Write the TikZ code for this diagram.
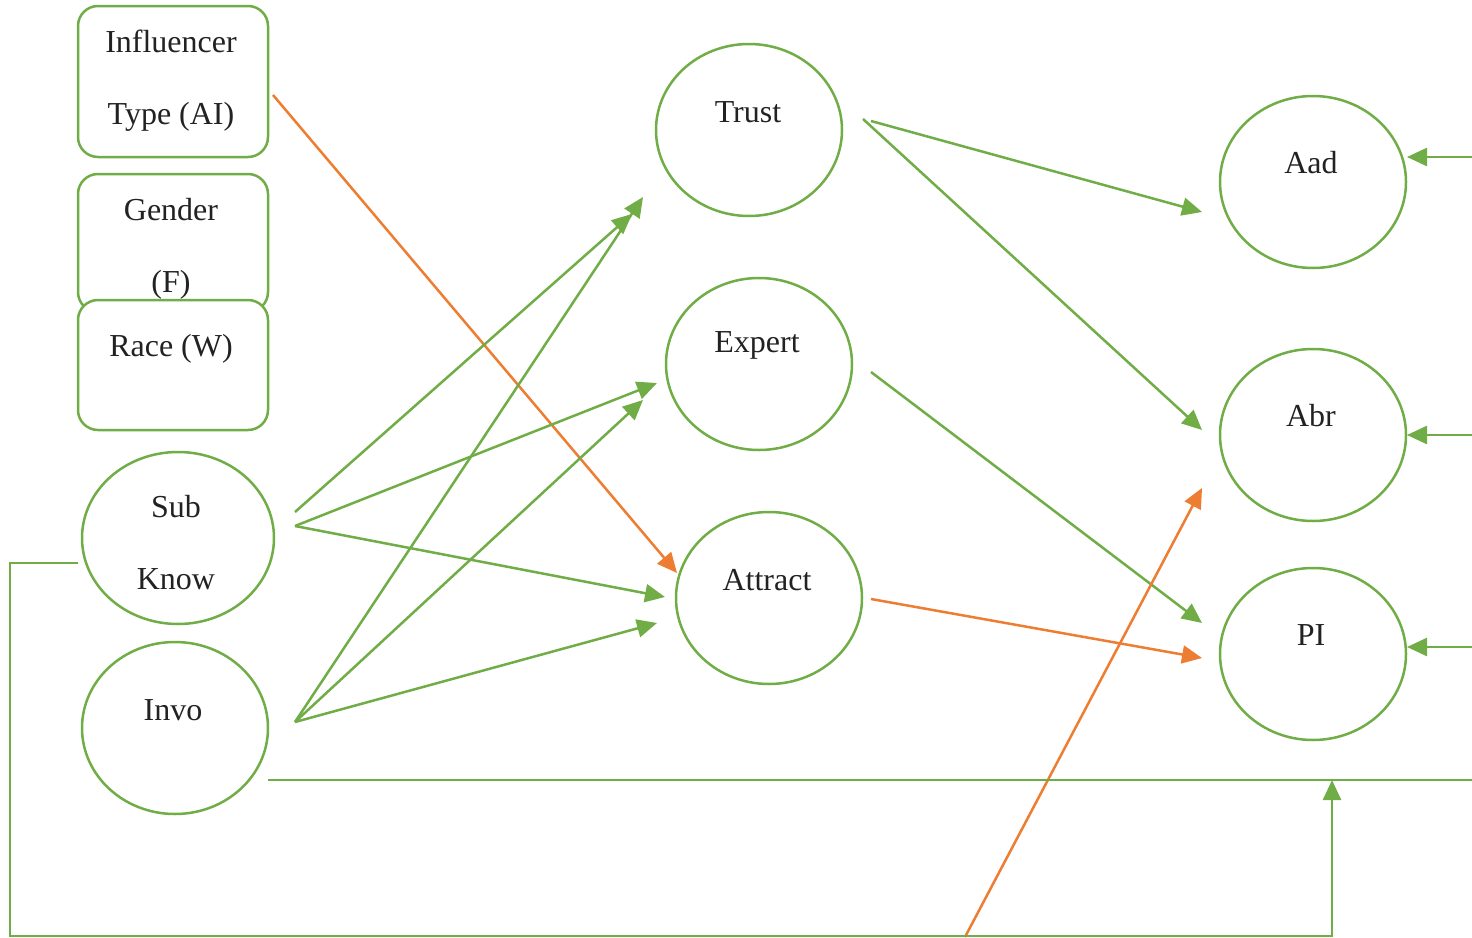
\documentclass[tikz,border=0pt]{standalone}
\usepackage{fontspec}
\setmainfont{Liberation Serif}
\usetikzlibrary{shapes.geometric,arrows.meta,calc}
\definecolor{gr}{HTML}{70AD47}
\definecolor{org}{HTML}{ED7D31}
\definecolor{txt}{HTML}{222222}
\begin{document}
\begin{tikzpicture}[x=0.5pt,y=-0.5pt,
  font=\fontsize{16}{19}\selectfont,
  ell/.style={draw=gr,line width=1.25pt,ellipse,minimum width=93pt,minimum height=86pt,inner sep=0pt},
  rbox/.style={draw=gr,line width=1.25pt,rounded corners=10pt,minimum width=95pt,fill=white,inner sep=0pt},
  lbl/.style={text=txt,inner sep=0pt},
  garr/.style={draw=gr,line width=1.25pt,-{Triangle[length=10pt,width=9pt]}},
  oarr/.style={draw=org,line width=1.25pt,-{Triangle[length=10pt,width=9pt]}},
  gline/.style={draw=gr,line width=1.25pt}]
\useasboundingbox (0,0) rectangle (1472,937);
% boxes
\node[rbox,minimum height=75.5pt] (inf) at (173,81.5) {};
\node[lbl] at ($(inf.center)+(-2,-40.5)$) {Influencer};
\node[lbl] at ($(inf.center)+(-2,35.5)$) {Type (AI)};
\node[rbox,minimum height=69pt] (gen) at (173,243) {};
\node[lbl] at ($(gen.center)+(-2,-33)$) {Gender};
\node[lbl] at ($(gen.center)+(-2,42)$) {(F)};
\node[rbox,minimum height=65pt] (race) at (173,365) {};
\node[lbl] at ($(race.center)+(-2,-16)$) {Race (W)};
% ellipses
\node[ell,minimum width=96pt] (sub) at (178,538) {};
\node[lbl] at ($(sub.center)+(-2,-31)$) {Sub};
\node[lbl] at ($(sub.center)+(-2,41)$) {Know};
\node[ell] (invo) at (175,728) {};
\node[lbl] at ($(invo.center)+(-2,-18)$) {Invo};
\node[ell] (trust) at (749,130) {};
\node[lbl] at ($(trust.center)+(-1,-18)$) {Trust};
\node[ell] (expert) at (759,364) {};
\node[lbl] at ($(expert.center)+(-2,-19)$) {Expert};
\node[ell] (attract) at (769,598) {};
\node[lbl] at ($(attract.center)+(-2,-18)$) {Attract};
\node[ell] (aad) at (1313,182) {};
\node[lbl] at ($(aad.center)+(-2,-19)$) {Aad};
\node[ell] (abr) at (1313,435) {};
\node[lbl] at ($(abr.center)+(-2,-19)$) {Abr};
\node[ell] (pi) at (1313,654) {};
\node[lbl] at ($(pi.center)+(-2,-19)$) {PI};
% free ends
\coordinate (rA) at (1472,157);
\coordinate (rB) at (1472,435);
\coordinate (rC) at (1472,647);
\coordinate (rD) at (1472,780);
\coordinate (bot) at (965,937);
% connectors
\draw[oarr] ($(inf.center)+(100,13.5)$) -- ($(attract.center)+(-92,-25)$);
\draw[garr] ($(sub.center)+(117,-26)$) -- ($(trust.center)+(-117,84)$);
\draw[garr] ($(sub.center)+(117,-12)$) -- ($(expert.center)+(-102,19)$);
\draw[garr] ($(sub.center)+(117,-12)$) -- ($(attract.center)+(-104,-1)$);
\draw[garr] ($(invo.center)+(120,-6)$) -- ($(trust.center)+(-106,67)$);
\draw[garr] ($(invo.center)+(120,-6)$) -- ($(expert.center)+(-116,36)$);
\draw[garr] ($(invo.center)+(120,-6)$) -- ($(attract.center)+(-112,25)$);
\draw[garr] ($(trust.center)+(122,-9)$) -- ($(aad.center)+(-111,30)$);
\draw[garr] ($(trust.center)+(114,-11)$) -- ($(abr.center)+(-111,-5)$);
\draw[garr] ($(expert.center)+(112,8)$) -- ($(pi.center)+(-111,-31)$);
\draw[oarr] ($(attract.center)+(102,1)$) -- ($(pi.center)+(-111,4)$);
\draw[oarr] (bot) -- ($(abr.center)+(-111,53)$);
\draw[garr] (rA) -- ($(aad.center)+(94,-25)$);
\draw[garr] (rB) -- ($(abr.center)+(94,0)$);
\draw[garr] (rC) -- ($(pi.center)+(94,-7)$);
\draw[gline] ($(invo.center)+(93,52)$) -- (rD);
\draw[garr] ($(sub.center)+(-100,25)$) -| (10,936) -- (1332,936) -- (1332,780);
\end{tikzpicture}
\end{document}
